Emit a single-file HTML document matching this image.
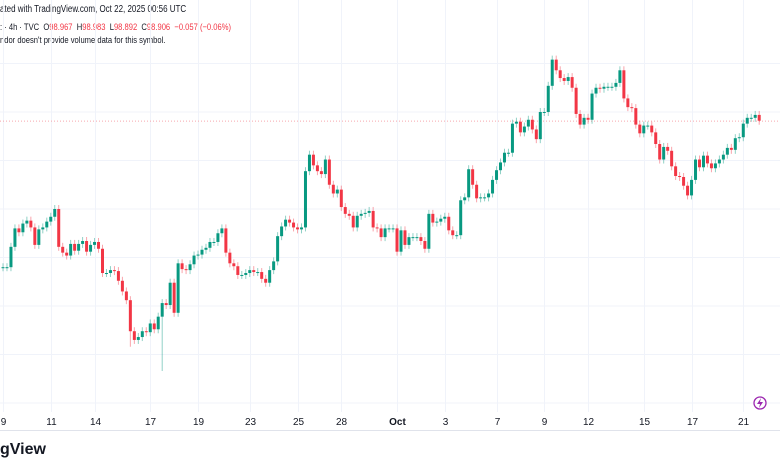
<!DOCTYPE html>
<html><head><meta charset="utf-8">
<style>
html,body{margin:0;padding:0;background:#fff;}
body{width:780px;height:470px;overflow:hidden;position:relative;font-family:"Liberation Sans",sans-serif;color:#131722;}
.t{position:absolute;white-space:nowrap;transform-origin:0 0;}
</style></head>
<body>
<div class="t" style="left:0;top:4px;font-size:10px;transform:scaleX(0.8);">ated with TradingView.com, Oct 22, 2025 00:56 UTC</div>
<div class="t" style="left:0;top:22px;font-size:9.5px;transform:scaleX(0.8);">: · 4h · TVC&nbsp; O<span style="color:#f23645">98.967</span>&nbsp; H<span style="color:#f23645">98.983</span>&nbsp; L<span style="color:#f23645">98.892</span>&nbsp; C<span style="color:#f23645">98.906</span>&nbsp; <span style="color:#f23645">−0.057 (−0.06%)</span></div>
<div class="t" style="left:0;top:35px;font-size:9.5px;transform:scaleX(0.8);">ndor doesn't provide volume data for this symbol.</div>
<svg id="chart" width="780" height="470" style="position:absolute;left:0;top:0;"></svg>
<div class="t" style="left:0;top:441px;font-size:16px;font-weight:bold;">gView</div>
<script>
const closes=[97.40,97.40,97.61,97.80,97.76,97.85,97.88,97.81,97.63,97.79,97.81,97.87,97.92,98.00,97.61,97.55,97.52,97.64,97.57,97.64,97.67,97.56,97.63,97.66,97.59,97.34,97.34,97.37,97.36,97.26,97.15,97.06,96.74,96.65,96.68,96.74,96.73,96.82,96.76,96.89,97.03,97.01,97.24,96.93,97.44,97.38,97.37,97.43,97.52,
97.53,97.58,97.60,97.66,97.66,97.75,97.80,97.55,97.44,97.41,97.32,97.32,97.34,97.37,97.35,97.35,97.28,97.24,97.37,97.46,97.72,97.82,97.89,97.86,97.81,97.79,97.81,98.39,98.56,98.45,98.39,98.36,98.51,98.25,98.16,98.20,98.02,97.95,97.93,97.81,97.93,97.95,97.96,97.98,97.81,97.80,97.71,97.80,97.80,
97.80,97.56,97.78,97.63,97.71,97.71,97.71,97.67,97.59,97.95,97.86,97.87,97.90,97.92,97.78,97.73,97.73,98.09,98.12,98.41,98.25,98.11,98.12,98.12,98.16,98.30,98.40,98.48,98.58,98.58,98.88,98.90,98.79,98.85,98.92,98.82,98.72,99.00,99.00,99.27,99.54,99.43,99.35,99.32,99.36,99.25,98.98,
98.87,98.94,98.92,99.19,99.25,99.24,99.26,99.26,99.26,99.30,99.43,99.14,99.05,99.04,98.87,98.78,98.86,98.86,98.79,98.67,98.51,98.64,98.60,98.44,98.34,98.33,98.24,98.14,98.30,98.51,98.43,98.55,98.47,98.42,98.47,98.51,98.56,98.63,98.61,98.73,98.74,98.88,98.94,98.94,98.97,98.91];
const firstOpen=97.40;
const lastPrice=98.906;
const extremeLowIndex=[40,32];
const extremeLowValue=[96.33,96.58];
const gridPrices=[99.5,99.0,98.5,98.0,97.5,97.0,96.5,96.0];
const tickLabels=["9","11","14","17","19","23","25","28","Oct","3","7","9","12","15","17","21"];
const tickIndex=[0,12,23,37,49,62,74,85,99,111,124,136,147,161,173,186];

const NS="http://www.w3.org/2000/svg";
const svg=document.getElementById('chart');
const x0=3,step=3.98;
function xs(i){return x0+i*step;}
function ys(p){return 112+(99-p)*97;}
function mk(tag,attrs){const e=document.createElementNS(NS,tag);for(const k in attrs)e.setAttribute(k,attrs[k]);svg.appendChild(e);return e;}

gridPrices.forEach(p=>{
  const l=mk('line',{x1:0,x2:780,y1:ys(p),y2:ys(p),stroke:'#f0f3fa','stroke-width':1});
  
  
});
tickIndex.forEach((ti,k)=>{
  const x=Math.round(xs(ti))+0.5;
  const l=mk('line',{x1:x,x2:x,y1:0,y2:412,stroke:'#f0f3fa','stroke-width':1});
  
  
  const t=mk('text',{x:x,y:425,'text-anchor':'middle','font-size':10,fill:'#131722','font-family':'Liberation Sans, sans-serif','font-weight':tickLabels[k]==='Oct'?'bold':'normal'});
  t.textContent=tickLabels[k];
  
  
});
const ax=mk('line',{x1:0,x2:780,y1:430.5,y2:430.5,stroke:'#e0e3eb','stroke-width':1});



const pl=mk('line',{x1:0,x2:780,y1:ys(lastPrice),y2:ys(lastPrice),stroke:'#f7a6ad','stroke-width':1,'stroke-dasharray':'1,2'});



closes.forEach((c,i)=>{
  const o=i===0?firstOpen:closes[i-1];
  const up=c>=o;
  const col=up?'#089981':'#f23645';
  const x=xs(i);
  const top=ys(Math.max(o,c)),bot=ys(Math.min(o,c));
  const k=extremeLowIndex.indexOf(i);
  const lowY=k>=0?ys(extremeLowValue[k]):bot+4;
  const w=mk('line',{x1:x,x2:x,y1:top-4,y2:lowY,stroke:col,'stroke-opacity':0.45,'stroke-width':1});
  
  
  const r=mk('rect',{x:x-1.5,y:top,width:3,height:Math.max(1,bot-top),fill:col});
  
  
});

const ic=mk('circle',{cx:760,cy:403,r:6,fill:'none',stroke:'#9c27b0','stroke-width':1.3});


const bolt=mk('path',{d:'M761 398 L757 404 L760 404 L759 408 L763 402 L760 402 Z',fill:'#9c27b0'});


</script>
</body></html>
